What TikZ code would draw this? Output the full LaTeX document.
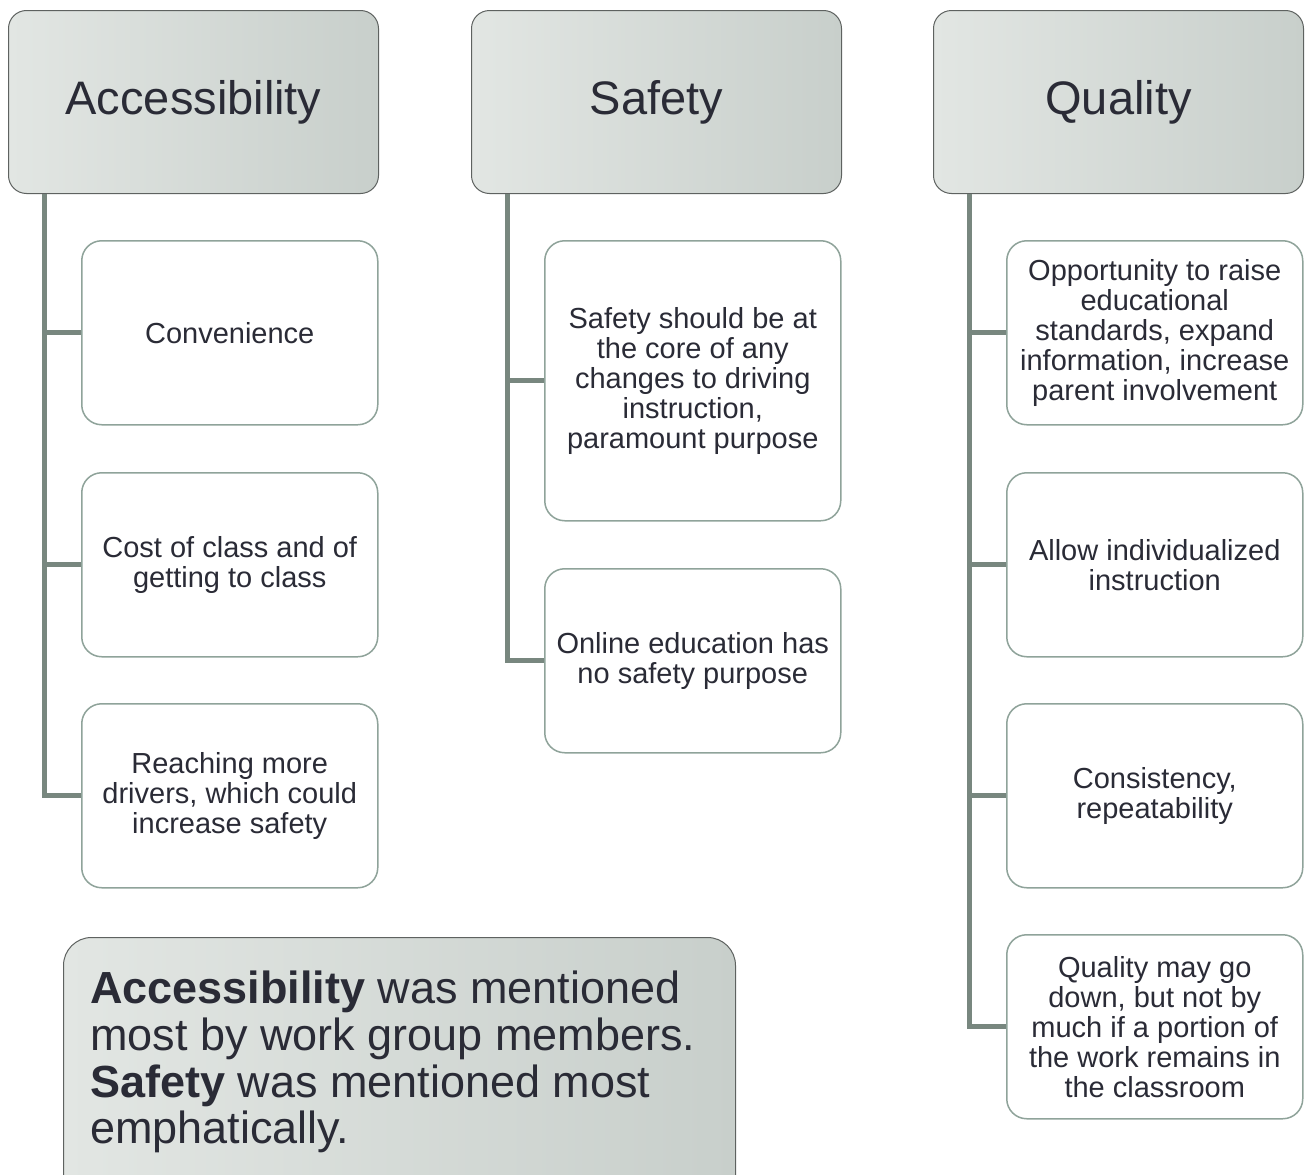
\documentclass[tikz,border=0pt]{standalone}
\usepackage{fontspec}
\setmainfont{Liberation Sans}
\definecolor{txt}{HTML}{2A2B36}
\definecolor{hdrA}{HTML}{E2E6E3}
\definecolor{hdrB}{HTML}{C8CFCB}
\definecolor{hdrline}{HTML}{5E6260}
\definecolor{kidline}{HTML}{8FA39A}
\definecolor{conncol}{HTML}{78877F}
\tikzset{
  hdr/.style={draw=hdrline, line width=1pt, rounded corners=18pt, left color=hdrA, right color=hdrB,
    minimum width=370pt, minimum height=183pt, anchor=north west, text=txt,
    font=\fontsize{47pt}{52pt}\selectfont, inner sep=0pt},
  kid/.style={draw=kidline, line width=1.5pt, rounded corners=20pt, fill=white,
    minimum width=296pt, minimum height=184pt, anchor=north west, text=txt,
    font=\fontsize{29pt}{30pt}\selectfont, align=center, inner sep=0pt},
  conn/.style={draw=conncol, line width=5pt},
}
\begin{document}
\begin{tikzpicture}[x=1pt,y=-1pt]
\clip (0,0) rectangle (1310,1175);
\fill[white] (0,0) rectangle (1310,1175);
% headers
\node[hdr] (A) at (8,10) {\raisebox{-3pt}{Accessibility}};
\node[hdr] (S) at (471,10) {\raisebox{-3pt}{Safety}};
\node[hdr] (Q) at (933,10) {\raisebox{-3pt}{Quality}};
% accessibility children
\node[kid] (A1) at (81,240) {Convenience};
\node[kid] (A2) at (81,472) {Cost of class and of\\getting to class};
\node[kid] (A3) at (81,703) {Reaching more\\drivers, which could\\increase safety};
% safety children
\node[kid, minimum height=280pt] (S1) at (544,240) {Safety should be at\\the core of any\\changes to driving\\instruction,\\paramount purpose};
\node[kid] (S2) at (544,568) {Online education has\\no safety purpose};
% quality children
\node[kid] (Q1) at (1006,240) {Opportunity to raise\\educational\\standards, expand\\information, increase\\parent involvement};
\node[kid] (Q2) at (1006,472) {Allow individualized\\instruction};
\node[kid] (Q3) at (1006,703) {Consistency,\\repeatability};
\node[kid] (Q4) at (1006,934) {Quality may go\\down, but not by\\much if a portion of\\the work remains in\\the classroom};
% connectors
\coordinate (Ac) at ([xshift=36pt]A.south west);
\coordinate (Sc) at ([xshift=36pt]S.south west);
\coordinate (Qc) at ([xshift=36pt]Q.south west);
\draw[conn] (Ac) |- (A3.west);
\draw[conn] (Ac) |- (A2.west);
\draw[conn] (Ac) |- (A1.west);
\draw[conn] (Sc) |- (S2.west);
\draw[conn] (Sc) |- (S1.west);
\draw[conn] (Qc) |- (Q4.west);
\draw[conn] (Qc) |- (Q3.west);
\draw[conn] (Qc) |- (Q2.west);
\draw[conn] (Qc) |- (Q1.west);
% summary box
\node[draw=hdrline, line width=1pt, rounded corners=28pt, left color=hdrA, right color=hdrB,
  minimum width=672pt, minimum height=280pt, anchor=north west, inner sep=0pt] (B) at (63,937) {};
\node[anchor=north west, text=txt, align=left, inner sep=0pt,
  font=\fontsize{45pt}{46.7pt}\selectfont] (T) at (90,971)
  {\textbf{Accessibility} was mentioned\\most by work group members.\\\textbf{Safety} was mentioned most\\emphatically.};
\end{tikzpicture}
\end{document}
